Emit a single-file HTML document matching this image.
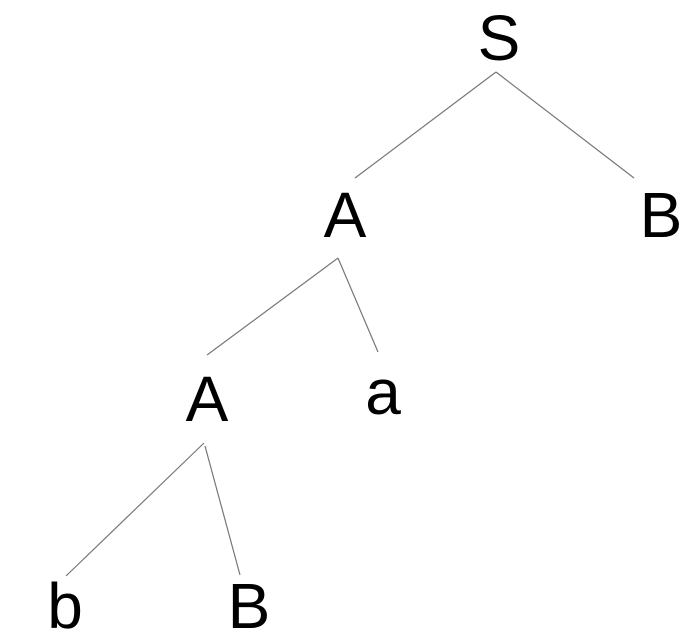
<!DOCTYPE html>
<html><head><style>html,body{margin:0;padding:0;background:#fff}</style></head>
<body>
<svg width="686" height="641" xmlns="http://www.w3.org/2000/svg" style="display:block">
<g stroke="#777" stroke-width="1.2" fill="none">
<line x1="496" y1="72" x2="355" y2="178"/>
<line x1="496" y1="72" x2="634" y2="178"/>
<line x1="338" y1="258" x2="207" y2="355"/>
<line x1="338" y1="258" x2="378" y2="352"/>
<line x1="204" y1="443" x2="66" y2="576"/>
<line x1="205" y1="446" x2="240" y2="575"/>
</g>
<g font-family="Liberation Sans, sans-serif" font-size="64" fill="#000" text-anchor="middle">
<text x="499" y="60">S</text>
<text x="345" y="237">A</text>
<text x="661" y="237">B</text>
<text x="207" y="421">A</text>
<text x="383" y="414">a</text>
<text x="65" y="628">b</text>
<text x="249" y="628">B</text>
</g>
</svg>
</body></html>
